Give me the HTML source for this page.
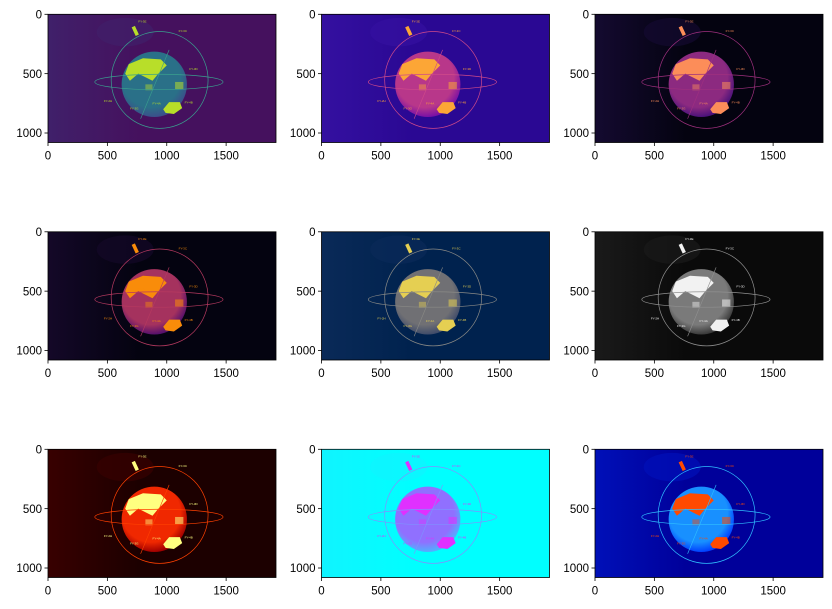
<!DOCTYPE html>
<html><head><meta charset="utf-8"><style>
html,body{margin:0;padding:0;background:#fff;}
svg{display:block;font-family:"Liberation Sans",Arial,sans-serif;}
</style></head><body>
<svg id="fig" width="832" height="609" viewBox="0 0 832 609"></svg>
<script>
const cmapNames=["viridis","plasma","magma","inferno","cividis","gray","hot","cool","jet"];
const bgColors=["#45115e","#2a0893","#040310","#040310","#00224e","#0a0a0a","#1c0000","#00ffff","#00009a"];
const bgColors2=["#40206a","#3410a0","#140a30","#140828","#0a2a58","#1a1a1a","#380000","#10f4ff","#0010b8"];
const globeColors=["#2a7088","#b8378a","#8c2a80","#a5325e","#707074","#7a7a7a","#f02800","#9070ff","#1890ff"];
const globeEdge=["#3b4f8a","#7a10a6","#4a127a","#56106c","#404c6a","#3a3a3a","#a00000","#50b0ff","#0040ff"];
const landColors=["#b8de29","#fca636","#fc8d59","#f98c0a","#e5cf52","#f2f2f2","#ffff80","#e030ff","#ff4a00"];
const lineColors=["#3aa08e","#d04a8a","#a0307f","#b73a60","#8a8a86","#909090","#ff4000","#8090ff","#30c0ff"];
const xTicks=[0,500,1000,1500];
const yTicks=[0,500,1000];
const imgW=1920, imgH=1080;
const svg=document.getElementById('fig');
const NS="http://www.w3.org/2000/svg";
function mk(tag,attrs,parent){const e=document.createElementNS(NS,tag);for(const k in attrs)e.setAttribute(k,attrs[k]);(parent||svg).appendChild(e);return e;}
const axW=228, axH=128.2;
const lefts=[48,321.5,595], tops=[14.3,231.8,449.3];
const defs=mk('defs',{});
cmapNames.forEach((name,i)=>{
  const r=Math.floor(i/3), c=i%3;
  const x0=lefts[c], y0=tops[r];
  const sx=v=>x0+v*axW/imgW, sy=v=>y0+v*axH/imgH;
  const k=axW/imgW;
  const g=mk('g',{});
  
  
  const cp=mk('clipPath',{id:'cp'+i},defs);
  mk('rect',{x:x0,y:y0,width:axW,height:axH},cp);
  const bg=mk('linearGradient',{id:'bg'+i,x1:0,y1:0,x2:1,y2:0},defs);
  mk('stop',{offset:0,'stop-color':bgColors2[i]},bg);
  mk('stop',{offset:0.4,'stop-color':bgColors[i]},bg);
  mk('stop',{offset:1,'stop-color':bgColors[i]},bg);
  const rg=mk('radialGradient',{id:'gl'+i,cx:0.45,cy:0.4,r:0.6},defs);
  mk('stop',{offset:0,'stop-color':globeColors[i]},rg);
  mk('stop',{offset:0.75,'stop-color':globeColors[i]},rg);
  mk('stop',{offset:1,'stop-color':globeEdge[i]},rg);
  const inner=mk('g',{'clip-path':'url(#cp'+i+')'},g);
  const img=mk('rect',{x:x0,y:y0,width:axW,height:axH,fill:'url(#bg'+i+')'},inner);
  
  
  mk('ellipse',{cx:sx(650),cy:sy(150),rx:240*k,ry:120*k,fill:bgColors2[i],opacity:0.7},inner);
  mk('circle',{cx:sx(895),cy:sy(590),r:275*k,fill:'url(#gl'+i+')'},inner);
  mk('path',{d:`M${sx(680)},${sy(420)} L${sx(800)},${sy(370)} L${sx(950)},${sy(380)} L${sx(1000)},${sy(430)} L${sx(930)},${sy(500)} L${sx(880)},${sy(560)} L${sx(760)},${sy(500)} L${sx(690)},${sy(560)} L${sx(650)},${sy(500)} Z`,fill:landColors[i]},inner);
  mk('path',{d:`M${sx(970)},${sy(800)} L${sx(1020)},${sy(740)} L${sx(1110)},${sy(740)} L${sx(1130)},${sy(790)} L${sx(1060)},${sy(840)} L${sx(990)},${sy(830)} Z`,fill:landColors[i]},inner);
  mk('rect',{x:sx(1070),y:sy(570),width:70*k,height:60*k,fill:landColors[i],opacity:0.55},inner);
  mk('rect',{x:sx(820),y:sy(590),width:60*k,height:50*k,fill:landColors[i],opacity:0.45},inner);
  mk('circle',{cx:sx(940),cy:sy(553),r:408*k,fill:'none',stroke:lineColors[i],'stroke-width':0.7},inner);
  mk('ellipse',{cx:sx(934),cy:sy(570),rx:540*k,ry:65*k,fill:'none',stroke:lineColors[i],'stroke-width':0.7},inner);
  mk('line',{x1:sx(1020),y1:sy(300),x2:sx(780),y2:sy(880),stroke:lineColors[i],'stroke-width':0.6},inner);
  mk('rect',{x:sx(720),y:sy(100),width:30*k,height:80*k,fill:landColors[i],transform:`rotate(-25 ${sx(735)} ${sy(140)})`},inner);
  [["FY-3E",760,70],["FY-3C",1100,150],["FY-3D",1190,470],["FY-2G",750,490],["FY-2H",470,740],["FY-3G",690,800],["FY-4A",880,760],["FY-4B",1150,750]].forEach(l=>{
    const t=mk('text',{x:sx(l[1]),y:sy(l[2]),'font-size':3,fill:landColors[i]},inner);t.textContent=l[0];
  });
  mk('rect',{x:x0,y:y0,width:axW,height:axH,fill:'none',stroke:'#000','stroke-width':0.8},g);
  xTicks.forEach(v=>{
    const x=sx(v);
    mk('line',{x1:x,y1:y0+axH,x2:x,y2:y0+axH+3.5,stroke:'#000','stroke-width':0.8},g);
    const t=mk('text',{x:x,y:y0+axH+17,'font-size':11.5,'text-anchor':'middle',fill:'#000'},g);
    
    
    t.textContent=v;
  });
  yTicks.forEach(v=>{
    const y=sy(v);
    mk('line',{x1:x0,y1:y,x2:x0-3.5,y2:y,stroke:'#000','stroke-width':0.8},g);
    const t=mk('text',{x:x0-6,y:y+4.2,'font-size':11.5,'text-anchor':'end',fill:'#000'},g);
    
    
    t.textContent=v;
  });
});
</script>
</body></html>
